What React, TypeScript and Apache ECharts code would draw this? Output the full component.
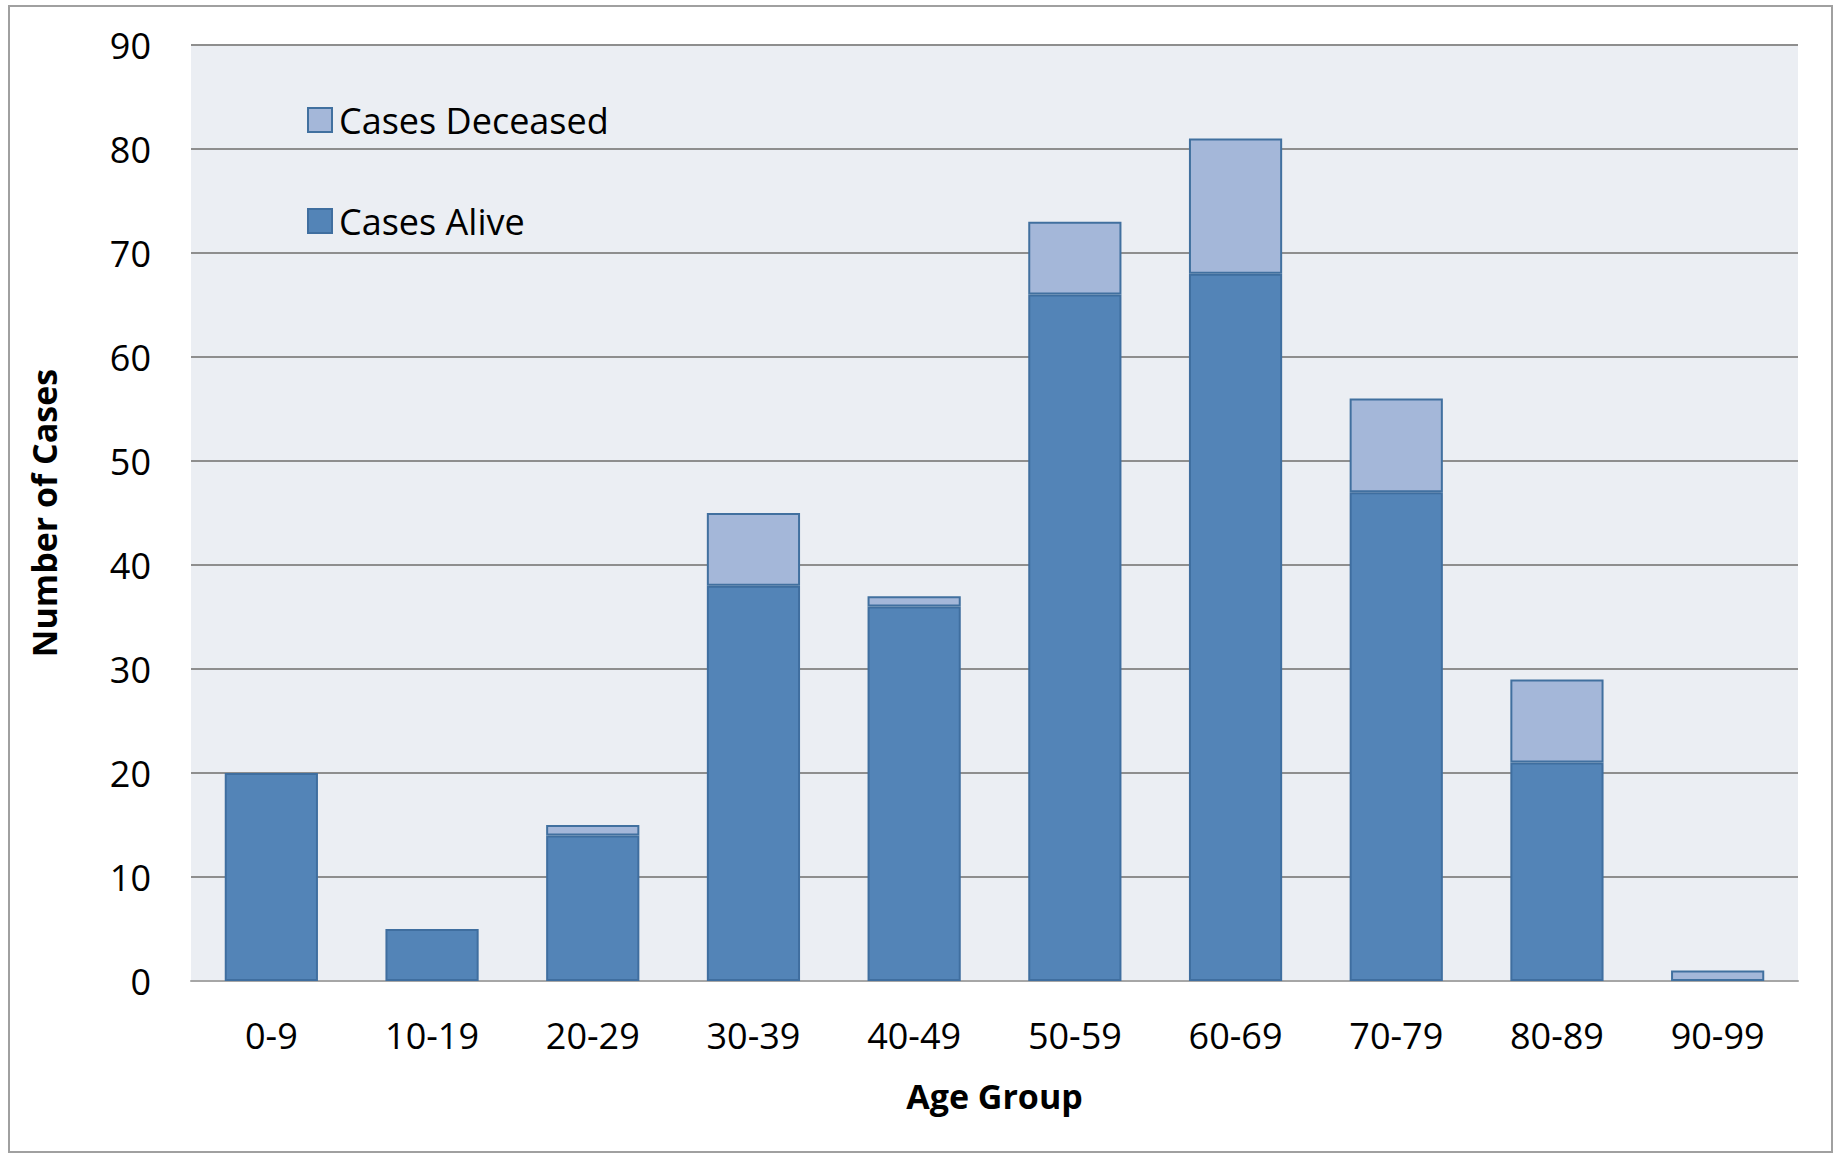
import React, { useEffect, useRef } from "react";
import * as echarts from "echarts";

const categories = ["0-9", "10-19", "20-29", "30-39", "40-49", "50-59", "60-69", "70-79", "80-89", "90-99"];
const casesAlive = [20, 5, 14, 38, 36, 66, 68, 47, 21, 0];
const casesDeceased = [0, 0, 1, 7, 1, 7, 13, 9, 8, 1];
const yTicks = { min: 0, max: 90, interval: 10 };

const FONT = "'Open Sans', 'Liberation Sans', sans-serif";

export default function App() {
  const ref = useRef<HTMLDivElement>(null);
  useEffect(() => {
    document.body.style.margin = "0";
    const chart = echarts.init(ref.current!, undefined, { renderer: "svg" });
    chart.setOption({
      animation: false,
      backgroundColor: "#ffffff",
      textStyle: { fontFamily: FONT },
      graphic: [
        {
          type: "rect",
          shape: { x: 9, y: 6, width: 1823, height: 1146 },
          style: { fill: "none", stroke: "#A0A0A0", lineWidth: 2 },
          silent: true,
        },
      ],
      grid: {
        left: 191,
        right: 39,
        top: 45,
        bottom: 173,
        show: true,
        backgroundColor: "#EBEEF3",
        borderWidth: 0,
      },
      legend: {
        orient: "vertical",
        left: 302,
        top: 97,
        icon: "rect",
        itemWidth: 24,
        itemHeight: 24,
        itemGap: 65,
        data: ["Cases Deceased", "Cases Alive"],
        textStyle: { fontFamily: FONT, fontSize: 36, color: "#000", padding: [0, 0, 0, 2] },
      },
      xAxis: {
        type: "category",
        data: categories,
        name: "Age Group",
        nameLocation: "middle",
        nameGap: 98,
        nameTextStyle: { fontFamily: FONT, fontSize: 34, fontWeight: "bold", color: "#000" },
        axisLine: { lineStyle: { color: "#A6A6A6", width: 2 } },
        axisTick: { show: false },
        axisLabel: { fontFamily: FONT, fontSize: 36, color: "#000", margin: 36 },
      },
      yAxis: {
        type: "value",
        min: yTicks.min,
        max: yTicks.max,
        interval: yTicks.interval,
        name: "Number of Cases",
        nameLocation: "middle",
        nameGap: 130,
        nameTextStyle: { fontFamily: FONT, fontSize: 34, fontWeight: "bold", color: "#000" },
        axisLine: { show: false },
        axisTick: { show: false },
        splitLine: { lineStyle: { color: "#8E8E8E", width: 2 } },
        axisLabel: { fontFamily: FONT, fontSize: 36, color: "#000", margin: 40 },
      },
      series: [
        {
          name: "Cases Alive",
          type: "bar",
          stack: "total",
          barCategoryGap: "42%",
          data: casesAlive.map((v) => (v === 0 ? null : v)),
          itemStyle: { color: "#5384B7", borderColor: "#3F6E9F", borderWidth: 2 },
        },
        {
          name: "Cases Deceased",
          type: "bar",
          stack: "total",
          barCategoryGap: "42%",
          data: casesDeceased.map((v) => (v === 0 ? null : v)),
          itemStyle: { color: "#A4B7D9", borderColor: "#41709F", borderWidth: 2 },
        },
      ],
    });
    return () => chart.dispose();
  }, []);
  return <div ref={ref} style={{ position: "absolute", left: 0, top: 0, width: 1837, height: 1154 }} />;
}
